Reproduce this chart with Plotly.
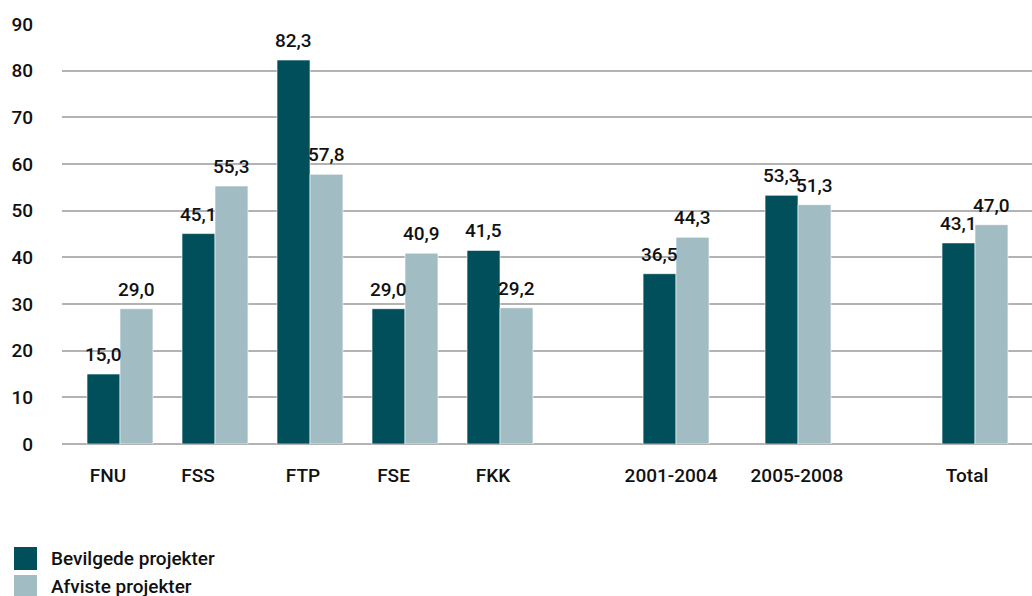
import plotly.graph_objects as go

categories = ["FNU", "FSS", "FTP", "FSE", "FKK", "2001-2004", "2005-2008", "Total"]
bevilgede = [15.0, 45.1, 82.3, 29.0, 41.5, 36.5, 53.3, 43.1]
afviste = [29.0, 55.3, 57.8, 40.9, 29.2, 44.3, 51.3, 47.0]
series_names = ["Bevilgede projekter", "Afviste projekter"]
y_ticks = [0, 10, 20, 30, 40, 50, 60, 70, 80, 90]

# layout: group positions along the x axis (gaps between groups of categories)
positions = [0, 1, 2, 3, 4, 5.853, 7.137, 9.0]
# layout: where the category labels sit (slightly left of the group centres)
label_positions = [-0.126, 0.821, 1.926, 2.879, 3.926, 5.8, 7.126, 8.916]
BAR_W = 0.347

DARK = "#004f5a"
LIGHT = "#a2bcc4"
FONT = "Roboto"
FS = 19
TXT = "#111111"

fig = go.Figure()
series = [(bevilgede, series_names[0], DARK, -BAR_W),
          (afviste, series_names[1], LIGHT, 0.0)]
for vals, name, color, off in series:
    fig.add_trace(go.Bar(
        x=positions, y=vals, name=name, width=BAR_W, offset=off,
        marker=dict(color=color, line=dict(color="white", width=0.6)),
        showlegend=False, hoverinfo="y",
    ))
    # value labels above bars
    for xp, v in zip(positions, vals):
        fig.add_annotation(x=xp + off + BAR_W / 2, y=v, text=f"{v:.1f}".replace(".", ","),
                           showarrow=False, xanchor="center", yanchor="bottom", yshift=6,
                           font=dict(family=FONT, size=FS, color=TXT, weight=500))

# manual legend
PW, PH, L, B = 970.0, 420.0, 62.0, 444.0
def px(x):
    return (x - L) / PW
def py(y):
    return (B - y) / PH
for i, (name, color) in enumerate([(series_names[0], DARK), (series_names[1], LIGHT)]):
    y0 = 547 + i * 28
    fig.add_shape(type="rect", xref="paper", yref="paper",
                  x0=px(14), x1=px(37), y0=py(y0 + 23), y1=py(y0),
                  fillcolor=color, line=dict(width=0))
    fig.add_annotation(xref="paper", yref="paper", x=px(49), y=py(y0 + 11.5),
                       text=name, showarrow=False, xanchor="left", yanchor="middle",
                       font=dict(family=FONT, size=FS, color=TXT, weight=500))

fig.update_layout(
    width=1032, height=596,
    margin=dict(l=62, r=0, t=24, b=152, autoexpand=False),
    paper_bgcolor="white", plot_bgcolor="white",
    font=dict(family=FONT, size=FS, color=TXT, weight=500),
    xaxis=dict(range=[-0.6105, 9.6], tickmode="array", tickvals=label_positions,
               ticktext=categories, showgrid=False, zeroline=False,
               ticks="", ticklabelstandoff=18, automargin=False,
               tickfont=dict(family=FONT, size=FS, color=TXT, weight=500)),
    yaxis=dict(range=[0, 90.02], tickmode="array", tickvals=y_ticks,
               showgrid=True, gridcolor="#b3b3b3", gridwidth=1.5,
               zeroline=True, zerolinecolor="#b3b3b3", zerolinewidth=1.5,
               ticks="", ticklabelstandoff=28, automargin=False,
               tickfont=dict(family=FONT, size=FS, color=TXT, weight=500)),
)

fig.write_html("out.html", config={"displayModeBar": False},
               post_script="document.body.style.margin='0px';document.body.style.overflow='hidden';")
